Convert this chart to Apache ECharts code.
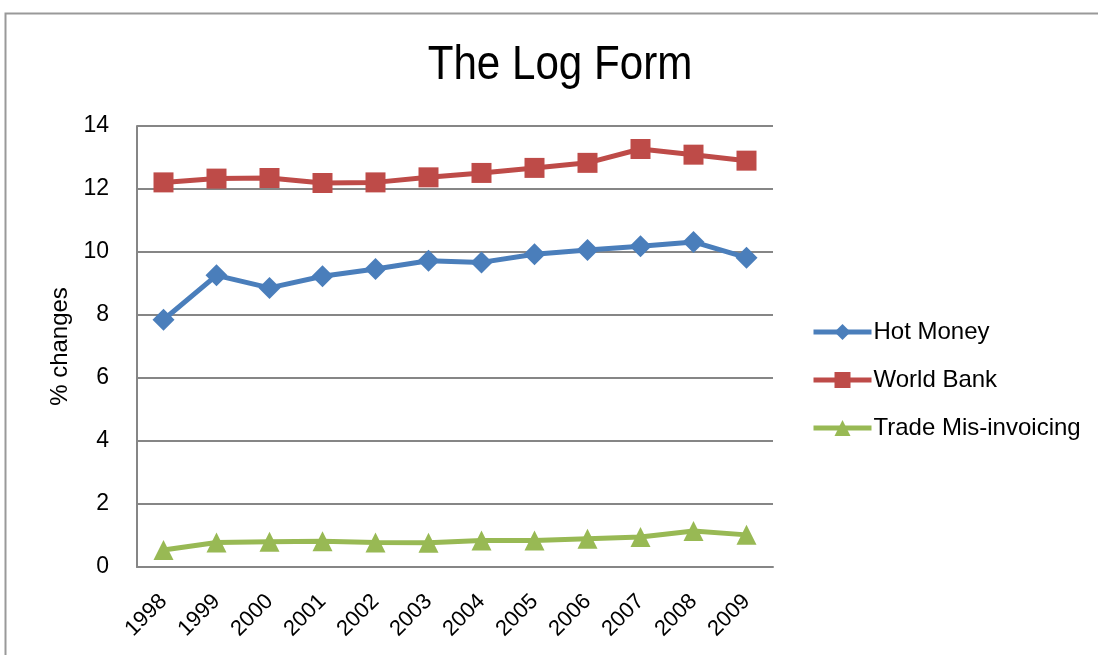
<!DOCTYPE html>
<html>
<head>
<meta charset="utf-8">
<script src="https://cdn.jsdelivr.net/npm/echarts@6/dist/echarts.min.js"></script>
<style>
  html, body { margin: 0; padding: 0; background: #fff; }
  #main { width: 1098px; height: 655px; }
</style>
</head>
<body>
<div id="main"></div>
<script>
// years on the x axis
var years = ['1998', '1999', '2000', '2001', '2002', '2003', '2004', '2005', '2006', '2007', '2008', '2009'];
// values
var hotMoney = [7.85, 9.26, 8.86, 9.23, 9.46, 9.72, 9.67, 9.93, 10.06, 10.18, 10.32, 9.82];
var worldBank = [12.21, 12.33, 12.35, 12.19, 12.21, 12.37, 12.51, 12.67, 12.83, 13.27, 13.09, 12.90];
var tradeMis = [0.54, 0.78, 0.80, 0.82, 0.78, 0.77, 0.84, 0.84, 0.90, 0.95, 1.14, 1.02];

var chart = echarts.init(document.getElementById('main'));
var fontFam = "'Liberation Sans', Arial, sans-serif";

function mkSeries(name, data, color, symbol, size) {
    return {
        name: name,
        type: 'line',
        data: data,
        symbol: symbol,
        symbolSize: size,
        color: color,
        lineStyle: { width: 5, color: color },
        itemStyle: { color: color },
        animation: false
    };
}

var option = {
    backgroundColor: '#fff',
    textStyle: { fontFamily: fontFam },
    graphic: [
        {
            type: 'rect',
            shape: { x: 5.5, y: 13.5, width: 1200, height: 800 },
            style: { fill: 'none', stroke: '#999', lineWidth: 2 },
            silent: true
        },
        {
            // title, squeezed a bit to look like the narrow original font
            type: 'text',
            x: 560,
            y: 41,
            scaleX: 0.86,
            style: {
                text: 'The Log Form',
                x: 0,
                y: 0,
                fill: '#000',
                font: "49px 'Liberation Sans', Arial, sans-serif",
                textAlign: 'center',
                textVerticalAlign: 'top'
            }
        }
    ],
    legend: {
        orient: 'vertical',
        left: 806,
        top: 315,
        itemGap: 24,
        itemWidth: 58,
        itemHeight: 20,
        lineStyle: { width: 5 },
        textStyle: { fontSize: 24, color: '#000', fontFamily: fontFam, padding: [0, 0, 0, -3] },
        data: ['Hot Money', 'World Bank', 'Trade Mis-invoicing']
    },
    grid: { left: 137, right: 325, top: 126, bottom: 88 },
    xAxis: {
        type: 'category',
        data: years,
        boundaryGap: true,
        axisLine: { lineStyle: { color: '#868686', width: 2 } },
        axisTick: { show: false },
        axisLabel: { rotate: 45, fontSize: 22, color: '#000', margin: 31, fontFamily: fontFam, interval: 0 }
    },
    yAxis: {
        type: 'value',
        min: 0,
        max: 14,
        interval: 2,
        name: '% changes',
        nameLocation: 'middle',
        nameGap: 64,
        nameTextStyle: { fontSize: 24, color: '#000', fontFamily: fontFam },
        axisLine: { show: true, lineStyle: { color: '#868686', width: 2 } },
        axisTick: { show: false },
        axisLabel: { fontSize: 23, color: '#000', margin: 28, fontFamily: fontFam },
        splitLine: { lineStyle: { color: '#868686', width: 2 } }
    },
    series: [
        mkSeries('Hot Money', hotMoney, '#4A7EBB', 'diamond', 22),
        mkSeries('World Bank', worldBank, '#BE4B48', 'rect', 20),
        mkSeries('Trade Mis-invoicing', tradeMis, '#98B954', 'triangle', 20)
    ]
};

chart.setOption(option);
</script>
</body>
</html>
